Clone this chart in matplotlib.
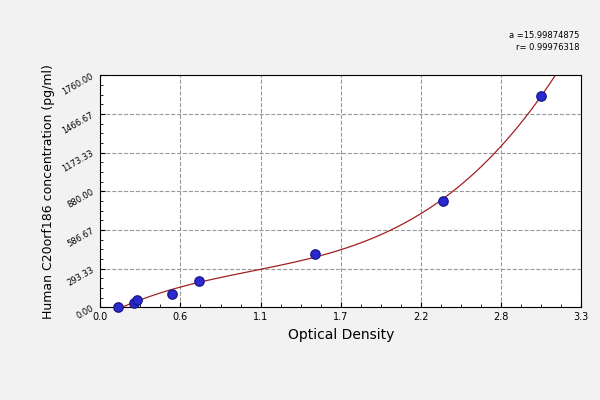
import numpy as np
import matplotlib
matplotlib.use("Agg")
import matplotlib.pyplot as plt

od = [0.12, 0.23, 0.25, 0.49, 0.68, 1.47, 2.35, 3.02]
conc = [0, 30, 53, 99, 197, 402, 804, 1601]
xticks = [0.0, 0.55, 1.1, 1.65, 2.2, 2.75, 3.3]
xlabels = ["0.0", "0.6", "1.1", "1.7", "2.2", "2.8", "3.3"]
yticks = [0, 293.33, 586.67, 880, 1173.33, 1466.67, 1760]
ylabels = ["0.00", "293.33", "586.67", "880.00", "1173.33", "1466.67", "1760.00"]

fig = plt.figure(figsize=(6, 4), dpi=100)
fig.patch.set_facecolor("#f2f2f2")
ax = fig.add_axes([0.167, 0.232, 0.802, 0.58])
ax.set_facecolor("white")

coef = np.polyfit(od, conc, 3)
xs = np.linspace(0.1, 3.35, 300)
ax.plot(xs, np.polyval(coef, xs), color="#a02020", lw=0.9)
ax.scatter(od, conc, s=45, color="#2a2ad0", edgecolor="#1a1a90", zorder=3, clip_on=False)

ax.set_xlim(0, 3.3)
ax.set_ylim(0, 1760)
ax.set_xticks(xticks)
ax.set_xticklabels(xlabels, fontsize=7)
ax.set_yticks(yticks)
ax.set_yticklabels(ylabels, fontsize=6, rotation=30)
ax.minorticks_on()
ax.grid(True, which="major", ls="--", color="#999999", lw=0.8)
ax.tick_params(which="both", direction="in")
ax.set_xlabel("Optical Density", fontsize=10)
ax.set_ylabel("Human C20orf186 concentration (pg/ml)", fontsize=9)
fig.text(0.965, 0.905, "a =15.99874875", ha="right", fontsize=6)
fig.text(0.965, 0.875, "r= 0.99976318", ha="right", fontsize=6)
fig.savefig("out.png", facecolor=fig.get_facecolor())
